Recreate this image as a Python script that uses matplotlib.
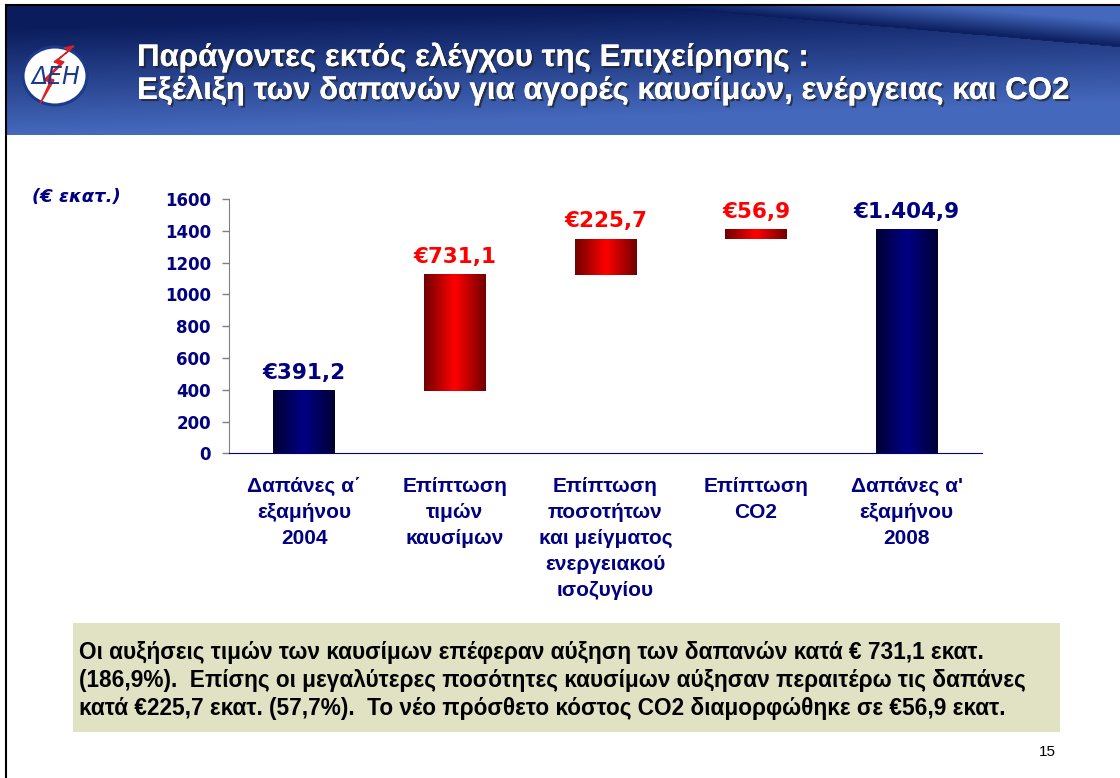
import numpy as np
import matplotlib
matplotlib.use("Agg")
import matplotlib.pyplot as plt
from matplotlib.patches import Rectangle, Ellipse
from matplotlib import patheffects as pe

# data
categories = ["Δαπάνες α΄\nεξαμήνου\n2004",
              "Επίπτωση\nτιμών\nκαυσίμων",
              "Επίπτωση\nποσοτήτων\nκαι μείγματος\nενεργειακού\nισοζυγίου",
              "Επίπτωση\nCO2",
              "Δαπάνες α'\nεξαμήνου\n2008"]
start_value = 391.2
increments = [731.1, 225.7, 56.9]
end_value = 1404.9
y_ticks = [0, 200, 400, 600, 800, 1000, 1200, 1400, 1600]

title_lines = ["Παράγοντες εκτός ελέγχου της Επιχείρησης :",
               "Εξέλιξη των δαπανών για αγορές καυσίμων, ενέργειας και CO2"]
unit_label = "(€ εκατ.)"
note_lines = ["Οι αυξήσεις τιμών των καυσίμων επέφεραν αύξηση των δαπανών κατά € 731,1 εκατ.",
              "(186,9%).  Επίσης οι μεγαλύτερες ποσότητες καυσίμων αύξησαν περαιτέρω τις δαπάνες",
              "κατά €225,7 εκατ. (57,7%).  Το νέο πρόσθετο κόστος CO2 διαμορφώθηκε σε €56,9 εκατ."]
page_no = "15"

NAVY = "#000080"
W, H = 1120, 778


def fmt_eur(v):
    s = f"{v:,.1f}"
    s = s.replace(",", "X").replace(".", ",").replace("X", ".")
    return "€" + s


fig = plt.figure(figsize=(W / 100, H / 100), dpi=100)
fig.patch.set_facecolor("white")

# ---- header banner ----
hx0, hx1, hy0, hy1 = 6, 1120, 6, 135
hax = fig.add_axes([hx0 / W, 1 - hy1 / H, (hx1 - hx0) / W, (hy1 - hy0) / H])
hax.set_axis_off()
nx, ny = 400, 130
xx, yy = np.meshgrid(np.linspace(0, 1, nx), np.linspace(0, 1, ny))
dark = np.array([0.04, 0.11, 0.36])
light = np.array([0.27, 0.41, 0.74])
t = np.clip(yy * 1.2 + xx * 0.3 - 0.2, 0, 1)
img = dark[None, None, :] * (1 - t[..., None]) + light[None, None, :] * t[..., None]
# lighter wedge at the top right
edge = (xx - 0.58) * 0.75
wedge = (yy < edge) & (xx > 0.58)
tw = np.clip((edge - yy) / 0.2, 0, 1)
wimg = dark[None, None, :] * (1 - tw[..., None]) + light[None, None, :] * tw[..., None]
img = np.where(wedge[..., None], wimg, img)
hax.imshow(img, aspect="auto", extent=[0, 1, 1, 0])
hax.set_xlim(0, 1)
hax.set_ylim(1, 0)

# frame lines
fig.add_artist(plt.Line2D([6 / W, 6 / W], [0, 1 - 5 / H], color="black", lw=1.5))
fig.add_artist(plt.Line2D([6 / W, 1], [1 - 5 / H, 1 - 5 / H], color="black", lw=1.5))

# logo
lax = fig.add_axes([18 / W, 1 - 110 / H, 74 / W, 68 / H])
lax.set_xlim(0, 74)
lax.set_ylim(0, 68)
lax.set_axis_off()
lax.add_patch(Ellipse((37, 34), 64, 58, facecolor="white", edgecolor="#1b3a8c", lw=2.2))
lax.fill([56, 40, 46, 30, 36, 22, 32, 26, 42, 36, 52, 46],
         [64, 50, 48, 32, 30, 6, 28, 30, 46, 48, 60, 62], color="#e02020", zorder=1)
lax.text(38, 33, "ΔΕΗ", ha="center", va="center", fontsize=17, color="#1b3a8c",
         style="italic", family="DejaVu Sans", zorder=3)

shadow = [pe.withSimplePatchShadow(offset=(1.5, -1.5), shadow_rgbFace="#202020", alpha=0.7),
          pe.Normal()]
for i, line in enumerate(title_lines):
    fig.text(137 / W, 1 - (66 + 33 * i) / H, line, color="white", fontsize=22.5,
             fontweight="bold", family="Liberation Sans", va="baseline",
             path_effects=shadow)

# ---- chart ----
ax = fig.add_axes([229 / W, 1 - 453.3 / H, 753 / W, 254.3 / H])
bottoms = [0]
heights = [start_value]
running = start_value
for inc in increments:
    bottoms.append(running)
    heights.append(inc)
    running += inc
bottoms.append(0)
heights.append(end_value)
kinds = ["total"] + ["inc"] * len(increments) + ["total"]

x = np.arange(len(categories))
bars = ax.bar(x, heights, bottom=bottoms, width=0.41, color="none", edgecolor="none")

grad = 1 - np.abs(np.linspace(-1, 1, 64))
for rect, kind, h in zip(bars, kinds, heights):
    if kind == "total":
        c0, c1 = np.array([0.0, 0.0, 0.2]), np.array([0.0, 0.0, 0.52])
        tc = NAVY
    else:
        c0, c1 = np.array([0.45, 0.0, 0.0]), np.array([1.0, 0.0, 0.0])
        tc = "#ff0000"
    g = c0[None, :] * (1 - grad[:, None]) + c1[None, :] * grad[:, None]
    x0, w = rect.get_x(), rect.get_width()
    y0, hh = rect.get_y(), rect.get_height()
    ax.imshow(g[None, :, :], extent=[x0, x0 + w, y0, y0 + hh], aspect="auto", zorder=2)
    ax.annotate(fmt_eur(h), (x0 + w / 2, y0 + hh), xytext=(0, 6), textcoords="offset points",
                ha="center", va="bottom", fontsize=15.5, fontweight="bold", color=tc,
                family="DejaVu Sans")

ax.set_xlim(-0.5, len(categories) - 0.5)
ax.set_ylim(0, 1600)
ax.set_yticks(y_ticks)
ax.set_yticklabels([str(v) for v in y_ticks], fontsize=12, fontweight="bold", color=NAVY,
                   family="DejaVu Sans")
ax.set_xticks(x)
ax.set_xticklabels(categories, fontsize=15, fontweight="bold", color=NAVY,
                   family="Liberation Sans", linespacing=1.47, va="top")
ax.tick_params(axis="x", length=0, pad=17)
ax.tick_params(axis="y", length=5, width=1, color="#808080", pad=8)
ax.spines["top"].set_visible(False)
ax.spines["right"].set_visible(False)
ax.spines["left"].set_color("#808080")
ax.spines["bottom"].set_color(NAVY)
ax.patch.set_alpha(0)

fig.text(32 / W, 1 - 197 / H, unit_label, fontsize=13, fontweight="bold", style="italic",
         color=NAVY, family="DejaVu Sans", va="center")

# ---- note box ----
fig.add_artist(Rectangle((73 / W, 1 - 732 / H), (1060 - 73) / W, (732 - 623) / H,
                         transform=fig.transFigure, facecolor="#e1e1c3", edgecolor="none"))
for i, line in enumerate(note_lines):
    fig.text(79 / W, 1 - (652 + 28 * i) / H, line, fontsize=16.3, fontweight="bold",
             family="Liberation Sans", color="black", va="center")

fig.text(1047 / W, 1 - 752 / H, page_no, fontsize=11, family="Liberation Sans",
         ha="center", va="center")

fig.savefig("out.png", dpi=100)
